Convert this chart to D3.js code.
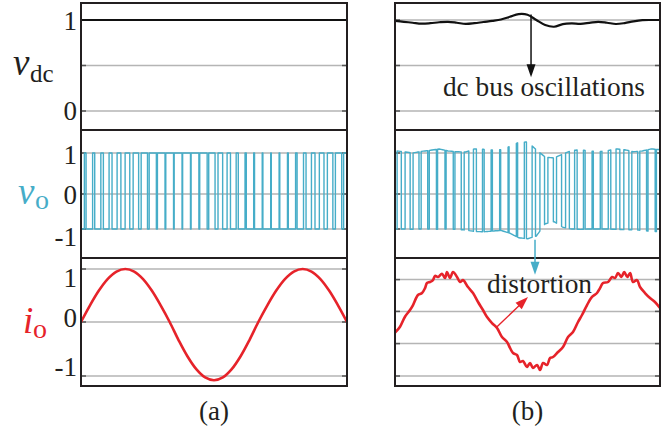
<!DOCTYPE html>
<html>
<head>
<meta charset="utf-8">
<script src="https://cdn.jsdelivr.net/npm/d3@7"></script>
<style>
body { margin: 0; background: #fff; }
svg { display: block; }
text { font-family: "Liberation Serif", "Times New Roman", serif; }
</style>
</head>
<body>
<script>
// time in ms, 1.5 cycles of a 50 Hz fundamental, carrier ratio 21
var timeDomain = [0, 30];
var carrierPeriod = 20 / 21;

// (a) normal operation
var vdcTimeA = [0, 30];
var vdcA = [1, 1];
var voEnvTimeA = [0, 30];
var voHiA = [1, 1];
var voLoA = [-1, -1];
var dutyA = [0.2, 0.25, 0.3, 0.35, 0.45, 0.55, 0.65, 0.75, 0.85, 0.9, 0.92, 0.93, 0.93, 0.92, 0.88, 0.75,
             0.55, 0.4, 0.25, 0.15, 0.1, 0.08, 0.07, 0.08, 0.1, 0.18, 0.3, 0.42, 0.55, 0.65, 0.75, 0.8];
var ioTimeA = d3.range(31);
var ioA = [0, 0.309, 0.588, 0.809, 0.951, 1, 0.951, 0.809, 0.588, 0.309, 0,
           -0.334, -0.635, -0.874, -1.027, -1.08, -1.027, -0.874, -0.635, -0.334, 0,
           0.309, 0.588, 0.809, 0.951, 1, 0.951, 0.809, 0.588, 0.309, 0];

// (b) with dc bus oscillations
var gridTimeB = d3.range(31);
var vdcB = [0.99, 0.98, 0.97, 0.96, 0.965, 0.975, 0.98, 0.97, 0.957, 0.965, 0.978, 0.99, 1.005, 1.035, 1.065, 1.058,
            1.0, 0.945, 0.926, 0.955, 0.962, 0.958, 0.968, 0.98, 0.97, 0.956, 0.966, 0.985, 0.998, 1.0, 1.0];
var voHiB = [1.056, 1.03, 1.0, 1.04, 1.066, 1.098, 1.05, 1.03, 1.024, 1.1, 1.09, 1.073, 1.08, 1.16, 1.26, 1.27,
             1.08, 0.9, 0.88, 0.976, 1.06, 1.08, 1.05, 1.03, 1.056, 1.1, 1.08, 1.03, 1.05, 1.1, 1.08];
var voLoB = [-1.0, -1.0, -1.01, -1.0, -1.0, -1.01, -1.0, -1.01, -1.03, -1.07, -1.08, -1.06, -1.04, -1.12, -1.25, -1.28,
             -1.2, -0.85, -0.79, -0.95, -1.0, -1.01, -1.0, -1.0, -1.0, -1.01, -1.02, -1.02, -1.04, -1.07, -1.08];
var dutyB = [0.5, 0.6, 0.7, 0.78, 0.85, 0.88, 0.85, 0.75, 0.55, 0.35, 0.2, 0.15, 0.12, 0.12, 0.15, 0.25,
             0.4, 0.55, 0.65, 0.6, 0.45, 0.3, 0.2, 0.15, 0.2, 0.3, 0.45, 0.6, 0.7, 0.8, 0.85, 0.85];
var ioTimeB = [0, 0.57, 1.13, 1.7, 2.04, 2.6, 3.06, 3.4, 3.62, 3.96, 4.3, 4.53, 4.87, 5.32, 5.66, 5.89, 6.23, 6.57,
               7.02, 7.36, 7.7, 8.26, 8.83, 9.4, 9.96, 10.42, 10.98, 11.55, 12.11, 12.68, 13.02, 13.36, 13.81,
               14.15, 14.49, 14.94, 15.28, 15.62, 16.08, 16.42, 16.76, 17.21, 17.55, 17.89, 18.45, 19.02, 19.59,
               20.15, 20.72, 21.17, 21.74, 22.3, 22.87, 23.21, 23.55, 24.12, 24.57, 24.91, 25.25, 25.62, 25.95,
               26.3, 26.62, 26.94, 27.4, 27.74, 28.3, 28.87, 29.43, 30];
var ioB = [-0.198, -0.087, 0.1, 0.226, 0.32, 0.51, 0.547, 0.64, 0.736, 0.755, 0.79, 0.87, 0.85, 0.91, 0.83, 0.943,
           0.83, 0.943, 0.85, 0.755, 0.79, 0.66, 0.547, 0.377, 0.226, 0.094, -0.019, -0.111, -0.278, -0.37, -0.48,
           -0.574, -0.611, -0.74, -0.722, -0.833, -0.76, -0.85, -0.796, -0.889, -0.76, -0.796, -0.667, -0.648,
           -0.556, -0.463, -0.278, -0.185, 0, 0.132, 0.32, 0.472, 0.547, 0.64, 0.736, 0.755, 0.85, 0.83, 0.925,
           0.85, 0.943, 0.85, 0.925, 0.755, 0.79, 0.66, 0.547, 0.453, 0.377, 0.264];

// ticks and grid lines
var vdcTicks = [1, 0];
var vdcGrid = [1, 0.5, 0];
var voTicks = [1, 0, -1];
var voGrid = [1, 0, -1];
var ioTicks = [1, 0, -1];
var ioGridA = [1, 0, -1];
var ioGridB = [0.8, 0.2, -0.4, -1];

var W = 668, H = 436;
var svg = d3.select("body").append("svg").attr("width", W).attr("height", H);

var cols = [[81, 347], [395, 660]];
var rows = [[3, 130], [130, 258], [258, 386]];
var teal = "#46adc8", red = "#e6232a", ink = "#231f20", gridCol = "#b5b5b5";

var xA = d3.scaleLinear().domain(timeDomain).range(cols[0]);
var xB = d3.scaleLinear().domain(timeDomain).range(cols[1]);
var yVdc = d3.scaleLinear().domain([0, 1]).range([111, 20]);
var yVo = d3.scaleLinear().domain([-1, 0, 1]).range([229, 194, 153]);
var yIo = d3.scaleLinear().domain([-1, 0, 1]).range([376, 322, 269]);

var defs = svg.append("defs");
cols.forEach(function(c, i) {
  rows.forEach(function(r, j) {
    defs.append("clipPath").attr("id", "clip" + i + j)
      .append("rect").attr("x", c[0]).attr("y", r[0]).attr("width", c[1] - c[0]).attr("height", r[1] - r[0]);
  });
});

function grid(col, y, vals) {
  var g = svg.append("g");
  vals.forEach(function(v) {
    g.append("line").attr("x1", col[0]).attr("x2", col[1]).attr("y1", y(v)).attr("y2", y(v))
      .attr("stroke", gridCol).attr("stroke-width", 1.5);
    g.append("line").attr("x1", col[0]).attr("x2", col[0] + 5).attr("y1", y(v)).attr("y2", y(v))
      .attr("stroke", "#555").attr("stroke-width", 1.5);
    g.append("line").attr("x1", col[1] - 5).attr("x2", col[1]).attr("y1", y(v)).attr("y2", y(v))
      .attr("stroke", "#555").attr("stroke-width", 1.5);
  });
}
grid(cols[0], yVdc, vdcGrid);
grid(cols[1], yVdc, vdcGrid);
grid(cols[0], yVo, voGrid);
grid(cols[1], yVo, voGrid);
grid(cols[0], yIo, ioGridA);
grid(cols[1], yIo, ioGridB);

function pwmPoints(duty, hiEnv, loEnv) {
  var pts = [];
  var tEnd = timeDomain[1];
  function seg(a, b, env) {
    a = Math.min(a, tEnd); b = Math.min(b, tEnd);
    if (b <= a) return;
    pts.push([a, env(a)]);
    for (var t = Math.ceil(a / 0.2) * 0.2; t < b; t += 0.2) pts.push([t, env(t)]);
    pts.push([b, env(b)]);
  }
  duty.forEach(function(d, k) {
    var t0 = k * carrierPeriod;
    var t1 = t0 + (1 - d) / 2 * carrierPeriod;
    var t2 = t1 + d * carrierPeriod;
    seg(t0, t1, loEnv);
    seg(t1, t2, hiEnv);
    seg(t2, t0 + carrierPeriod, loEnv);
  });
  return pts;
}

function drawLine(x, y, pts, color, width, clip, curve) {
  var line = d3.line().x(function(d) { return x(d[0]); }).y(function(d) { return y(d[1]); });
  if (curve) line.curve(curve);
  svg.append("path").attr("d", line(pts)).attr("fill", "none")
    .attr("stroke", color).attr("stroke-width", width)
    .attr("stroke-linejoin", "round").attr("clip-path", "url(#" + clip + ")");
}

// dc bus voltage
drawLine(xA, yVdc, d3.zip(vdcTimeA, vdcA), "#111", 2.2, "clip00");
drawLine(xB, yVdc, d3.zip(gridTimeB, vdcB), "#111", 2.2, "clip10", d3.curveCatmullRom);

// output voltage
var hiA = d3.scaleLinear().domain(voEnvTimeA).range(voHiA).clamp(true);
var loA = d3.scaleLinear().domain(voEnvTimeA).range(voLoA).clamp(true);
var hiB = d3.scaleLinear().domain(gridTimeB).range(voHiB).clamp(true);
var loB = d3.scaleLinear().domain(gridTimeB).range(voLoB).clamp(true);
drawLine(xA, yVo, pwmPoints(dutyA, hiA, loA), teal, 1.4, "clip01");
drawLine(xB, yVo, pwmPoints(dutyB, hiB, loB), teal, 1.4, "clip11");

// output current
drawLine(xA, yIo, d3.zip(ioTimeA, ioA), red, 2.6, "clip02", d3.curveCatmullRom);
drawLine(xB, yIo, d3.zip(ioTimeB, ioB), red, 2.6, "clip12", d3.curveCatmullRom);

// frames
cols.forEach(function(c) {
  rows.forEach(function(r) {
    svg.append("rect").attr("x", c[0]).attr("y", r[0]).attr("width", c[1] - c[0]).attr("height", r[1] - r[0])
      .attr("fill", "none").attr("stroke", ink).attr("stroke-width", 2);
  });
});

// tick labels (left column only)
function tickLabels(y, vals, shift) {
  svg.append("g").selectAll("text").data(vals).enter().append("text")
    .attr("x", 77).attr("y", function(v) { return y(v) + shift(v); })
    .attr("dy", "0.35em").attr("text-anchor", "end")
    .attr("font-size", 27).attr("fill", ink)
    .text(function(v) { return v < 0 ? "-" + Math.abs(v) : v; });
}
tickLabels(yVdc, vdcTicks, function(v) { return v === 1 ? 1 : 0; });
tickLabels(yVo, voTicks, function(v) { return v === 1 ? 2 : v === 0 ? 1 : 8; });
tickLabels(yIo, ioTicks, function(v) { return v === 1 ? 9 : v === 0 ? -4 : -9; });

// axis names
function varLabel(x, y, main, sub, color) {
  svg.append("text").attr("x", x).attr("y", y).attr("font-size", 37).attr("font-style", "italic")
    .attr("fill", color).text(main);
  svg.append("text").attr("x", x + (main === "i" ? 10 : 17)).attr("y", y + (sub === "dc" ? 7 : 5))
    .attr("font-size", sub === "dc" ? 25 : 28).attr("fill", color).text(sub);
}
varLabel(13, 75, "v", "dc", ink);
varLabel(18, 204, "v", "o", teal);
varLabel(23, 333, "i", "o", red);

// annotations
function head(x, y, angle, color) {
  svg.append("path").attr("d", "M0,0 L-13,-4.5 L-13,4.5 Z").attr("fill", color)
    .attr("transform", "translate(" + x + "," + y + ") rotate(" + angle + ")");
}

var arrowDc = { t: 15.4, from: 1.06, to: 0.37 };
svg.append("line").attr("x1", xB(arrowDc.t)).attr("x2", xB(arrowDc.t))
  .attr("y1", yVdc(arrowDc.from)).attr("y2", yVdc(arrowDc.to) - 10)
  .attr("stroke", "#111").attr("stroke-width", 1.5);
head(xB(arrowDc.t), yVdc(arrowDc.to), 90, "#111");
svg.append("text").attr("x", xB(5.43)).attr("y", yVdc(0.165)).attr("font-size", 27)
  .attr("textLength", 202).attr("lengthAdjust", "spacingAndGlyphs").attr("fill", ink).text("dc bus oscillations");

var arrowVo = { t: 15.85, from: -1.31, to: 0.89 };
svg.append("line").attr("x1", xB(arrowVo.t)).attr("x2", xB(arrowVo.t))
  .attr("y1", yVo(arrowVo.from)).attr("y2", yIo(arrowVo.to) - 10)
  .attr("stroke", teal).attr("stroke-width", 1.5);
head(xB(arrowVo.t), yIo(arrowVo.to), 90, teal);

var arrowIo = { t0: 11.55, v0: -0.09, t1: 15.06, v1: 0.47 };
var ax0 = xB(arrowIo.t0), ay0 = yIo(arrowIo.v0), ax1 = xB(arrowIo.t1), ay1 = yIo(arrowIo.v1);
var ang = Math.atan2(ay1 - ay0, ax1 - ax0);
svg.append("line").attr("x1", ax0).attr("y1", ay0)
  .attr("x2", ax1 - 10 * Math.cos(ang)).attr("y2", ay1 - 10 * Math.sin(ang))
  .attr("stroke", red).attr("stroke-width", 1.4);
head(ax1, ay1, ang * 180 / Math.PI, red);
svg.append("text").attr("x", xB(10.42)).attr("y", yIo(0.55)).attr("font-size", 27)
  .attr("textLength", 105).attr("lengthAdjust", "spacingAndGlyphs").attr("fill", ink).text("distortion");

// sub-figure captions
svg.append("text").attr("x", d3.mean(cols[0])).attr("y", 420).attr("text-anchor", "middle")
  .attr("font-size", 27).attr("fill", ink).text("(a)");
svg.append("text").attr("x", d3.mean(cols[1])).attr("y", 420).attr("text-anchor", "middle")
  .attr("font-size", 27).attr("fill", ink).text("(b)");
</script>
</body>
</html>
